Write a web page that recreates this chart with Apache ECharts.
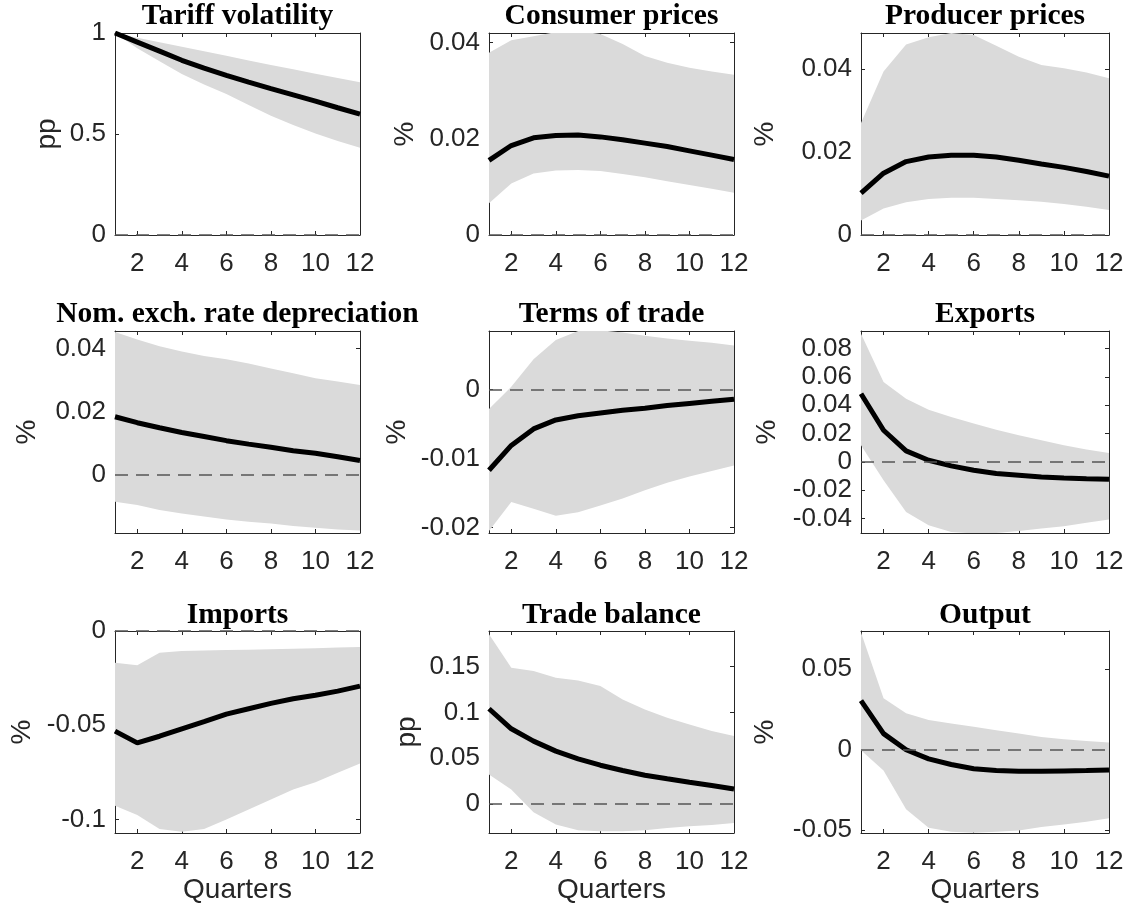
<!DOCTYPE html>
<html><head><meta charset="utf-8">
<script src="https://cdn.jsdelivr.net/npm/echarts@6/dist/echarts.min.js"></script>
<style>html,body{margin:0;padding:0;background:#fff}#c{width:1132px;height:913px}</style>
</head><body><div id="c"></div>
<script>
// ---------------- DATA ----------------
const quarters = [1,2,3,4,5,6,7,8,9,10,11,12];
const xTickLabels = [2,4,6,8,10,12];
const titles = ['Tariff volatility','Consumer prices','Producer prices',
  'Nom. exch. rate depreciation','Terms of trade','Exports',
  'Imports','Trade balance','Output'];
const units = ['pp','%','%','%','%','%','%','pp','%'];

const tariffMed = [1, 0.955, 0.91, 0.865, 0.826, 0.79, 0.757, 0.725, 0.694, 0.663, 0.63, 0.598];
const tariffHi  = [1, 0.977, 0.954, 0.932, 0.91, 0.887, 0.864, 0.842, 0.82, 0.798, 0.777, 0.756];
const tariffLo  = [1, 0.925, 0.86, 0.797, 0.745, 0.698, 0.643, 0.59, 0.545, 0.502, 0.465, 0.432];

const cpiMed = [0.0155, 0.0186, 0.0202, 0.0207, 0.0208, 0.0204, 0.0198, 0.0191, 0.0184, 0.0175, 0.0166, 0.0157];
const cpiHi  = [0.0379, 0.0405, 0.0413, 0.0422, 0.0424, 0.0418, 0.0397, 0.0372, 0.0358, 0.0348, 0.034, 0.0333];
const cpiLo  = [0.0066, 0.0107, 0.0128, 0.0134, 0.0135, 0.0133, 0.0127, 0.012, 0.0112, 0.0104, 0.0096, 0.0088];

const ppiMed = [0.0101, 0.0149, 0.0177, 0.0188, 0.0192, 0.0192, 0.0188, 0.018, 0.0171, 0.0163, 0.0153, 0.0142];
const ppiHi  = [0.027, 0.0394, 0.0459, 0.0477, 0.0487, 0.0482, 0.0456, 0.043, 0.041, 0.0402, 0.0392, 0.0378];
const ppiLo  = [0.0035, 0.0064, 0.0079, 0.0087, 0.009, 0.009, 0.0087, 0.0084, 0.008, 0.0075, 0.0068, 0.006];

const nerMed = [0.0183, 0.0164, 0.0148, 0.0133, 0.012, 0.0107, 0.0096, 0.0086, 0.0075, 0.0067, 0.0056, 0.0044];
const nerHi  = [0.0452, 0.0428, 0.0407, 0.039, 0.0376, 0.0365, 0.0352, 0.0336, 0.0321, 0.0305, 0.0295, 0.0284];
const nerLo  = [-0.0087, -0.0097, -0.0113, -0.0124, -0.0134, -0.0143, -0.015, -0.0156, -0.0164, -0.0169, -0.0175, -0.0178];

const totMed = [-0.0117, -0.0081, -0.0057, -0.0044, -0.0038, -0.0034, -0.003, -0.0027, -0.0023, -0.002, -0.0017, -0.0014];
const totHi  = [-0.0028, 0.0004, 0.0044, 0.0072, 0.0085, 0.0086, 0.0083, 0.0078, 0.0074, 0.0071, 0.0068, 0.0064];
const totLo  = [-0.0205, -0.0163, -0.0173, -0.0183, -0.0178, -0.0168, -0.0158, -0.0146, -0.0135, -0.0126, -0.0118, -0.011];

const expMed = [0.0482, 0.0224, 0.0078, 0.0012, -0.0028, -0.0059, -0.0082, -0.0094, -0.0106, -0.0113, -0.0118, -0.0122];
const expHi  = [0.0906, 0.0565, 0.0447, 0.0369, 0.0318, 0.0271, 0.0228, 0.0188, 0.0153, 0.0118, 0.0087, 0.0064];
const expLo  = [0.0118, -0.0129, -0.0353, -0.0447, -0.0495, -0.0505, -0.0502, -0.0487, -0.047, -0.0454, -0.043, -0.0407];

const impMed = [-0.0531, -0.0593, -0.0558, -0.0519, -0.0481, -0.0441, -0.0412, -0.0384, -0.0359, -0.0341, -0.0319, -0.0292];
const impHi  = [-0.0168, -0.0182, -0.0115, -0.0106, -0.0103, -0.0101, -0.0099, -0.0097, -0.0094, -0.0091, -0.0088, -0.0085];
const impLo  = [-0.0926, -0.0975, -0.105, -0.1065, -0.105, -0.1, -0.0947, -0.0894, -0.0841, -0.0802, -0.0752, -0.0703];

const tbMed = [0.104, 0.0821, 0.0686, 0.0577, 0.0493, 0.0423, 0.0365, 0.0314, 0.0274, 0.0237, 0.0201, 0.0164];
const tbHi  = [0.1854, 0.1489, 0.1453, 0.138, 0.135, 0.1288, 0.1142, 0.1033, 0.0942, 0.0869, 0.0796, 0.0741];
const tbLo  = [0.0321, 0.0157, -0.0091, -0.0226, -0.0288, -0.03, -0.03, -0.0288, -0.0263, -0.0245, -0.023, -0.0208];

const outMed = [0.0303, 0.0098, -0.0002, -0.0059, -0.0094, -0.0121, -0.0132, -0.0136, -0.0136, -0.0134, -0.0132, -0.0128];
const outHi  = [0.0726, 0.0318, 0.0224, 0.0182, 0.0161, 0.014, 0.0119, 0.0098, 0.0077, 0.0063, 0.0052, 0.0042];
const outLo  = [-0.0006, -0.0132, -0.0372, -0.0487, -0.0513, -0.0519, -0.0513, -0.0504, -0.0483, -0.0467, -0.045, -0.0429];

const yTickLabels = [
  [0, 0.5, 1], [0, 0.02, 0.04], [0, 0.02, 0.04],
  [0, 0.02, 0.04], [-0.02, -0.01, 0], [-0.04, -0.02, 0, 0.02, 0.04, 0.06, 0.08],
  [-0.1, -0.05, 0], [0, 0.05, 0.1, 0.15], [-0.05, 0, 0.05]
];
const yMins = [0, 0, 0, -0.0186, -0.0208, -0.0502, -0.1071, -0.0318, -0.052];
const yMaxs = [1, 0.042, 0.0487, 0.0455, 0.0085, 0.0925, 0, 0.189, 0.0736];

const medians = [tariffMed, cpiMed, ppiMed, nerMed, totMed, expMed, impMed, tbMed, outMed];
const uppers  = [tariffHi, cpiHi, ppiHi, nerHi, totHi, expHi, impHi, tbHi, outHi];
const lowers  = [tariffLo, cpiLo, ppiLo, nerLo, totLo, expLo, impLo, tbLo, outLo];

// ---------------- LAYOUT ----------------
const colLeft = [115, 489, 861];
const colWidth = [245, 245, 248];
const rowTop = [33, 331, 631];
const plotH = 202;
const titleY = [16, 314, 615];
const nameGaps = [54, 70, 82, 74, 78, 80, 79, 68, 82];

const FONT = "'Liberation Sans', Arial, Helvetica, sans-serif";
const SERIF = "'Liberation Serif', 'Times New Roman', serif";
const AX = '#262626';

function bandRender(params, api) {
  if (params.dataIndexInside !== 0) return;
  const n = params.dataInsideLength;
  const top = [], bot = [];
  for (let j = 0; j < n; j++) {
    const x = api.value(0, j);
    top.push(api.coord([x, api.value(2, j)]));
    bot.unshift(api.coord([x, api.value(1, j)]));
  }
  const cs = params.coordSys;
  return {
    type: 'polygon',
    shape: {points: top.concat(bot)},
    style: {fill: '#dadada', stroke: null},
    clipPath: {type: 'rect', shape: {x: cs.x, y: cs.y, width: cs.width, height: cs.height}},
    silent: true
  };
}

const grids = [], xAxes = [], yAxes = [], series = [], graphics = [];
for (let i = 0; i < 9; i++) {
  const r = Math.floor(i / 3), c = i % 3;
  grids.push({left: colLeft[c], top: rowTop[r], width: colWidth[c], height: plotH, containLabel: false});
  const common = {gridIndex: i, type: 'value', splitLine: {show: false}};
  xAxes.push(Object.assign({}, common, {
    position: 'bottom', min: 1, max: 12,
    axisLine: {show: true, onZero: false, lineStyle: {color: AX, width: 1}},
    axisTick: {show: true, inside: true, length: 4, customValues: xTickLabels, lineStyle: {color: AX}},
    axisLabel: {show: true, customValues: xTickLabels, margin: 16, color: AX, fontFamily: FONT, fontSize: 26},
    name: r === 2 ? 'Quarters' : '', nameLocation: 'middle', nameGap: 34,
    nameTextStyle: {color: AX, fontFamily: FONT, fontSize: 28}
  }));
  xAxes.push(Object.assign({}, common, {
    position: 'top', min: 1, max: 12,
    axisLine: {show: true, onZero: false, lineStyle: {color: AX, width: 1}},
    axisTick: {show: true, inside: true, length: 4, customValues: xTickLabels, lineStyle: {color: AX}},
    axisLabel: {show: false}
  }));
  yAxes.push(Object.assign({}, common, {
    position: 'left', min: yMins[i], max: yMaxs[i],
    axisLine: {show: true, onZero: false, lineStyle: {color: AX, width: 1}},
    axisTick: {show: true, inside: true, length: 4, customValues: yTickLabels[i], lineStyle: {color: AX}},
    axisLabel: {show: true, customValues: yTickLabels[i], margin: 9, color: AX, fontFamily: FONT, fontSize: 26,
      formatter: v => String(+v.toFixed(4))},
    name: units[i], nameLocation: 'middle', nameGap: nameGaps[i], nameRotate: 90,
    nameTextStyle: {color: AX, fontFamily: FONT, fontSize: 28}
  }));
  yAxes.push(Object.assign({}, common, {
    position: 'right', min: yMins[i], max: yMaxs[i],
    axisLine: {show: true, onZero: false, lineStyle: {color: AX, width: 1}},
    axisTick: {show: true, inside: true, length: 4, customValues: yTickLabels[i], lineStyle: {color: AX}},
    axisLabel: {show: false}
  }));
  const xi = 2 * i, yi = 2 * i;
  const bandData = quarters.map((q, k) => [q, lowers[i][k], uppers[i][k]]);
  const medData = quarters.map((q, k) => [q, medians[i][k]]);
  series.push({
    type: 'custom', xAxisIndex: xi, yAxisIndex: yi, data: bandData,
    encode: {x: 0, y: [1, 2]}, renderItem: bandRender, silent: true, z: 1
  });
  series.push({
    type: 'line', xAxisIndex: xi, yAxisIndex: yi, data: medData,
    symbol: 'none', lineStyle: {color: '#000', width: 5}, silent: true, z: 3,
    markLine: {
      silent: true, symbol: 'none', label: {show: false},
      lineStyle: {color: '#555', type: [13, 8], width: 1.6},
      data: [{yAxis: 0}], animation: false
    }
  });
  graphics.push({
    type: 'text', x: colLeft[c] + colWidth[c] / 2, y: titleY[r],
    style: {text: titles[i], fill: '#000', font: 'bold 29.5px ' + SERIF, textAlign: 'center', textVerticalAlign: 'middle'}
  });
}

const chart = echarts.init(document.getElementById('c'), null, {renderer: 'canvas'});
chart.setOption({
  animation: false,
  backgroundColor: '#fff',
  grid: grids, xAxis: xAxes, yAxis: yAxes, series: series, graphic: graphics
});
</script></body></html>
